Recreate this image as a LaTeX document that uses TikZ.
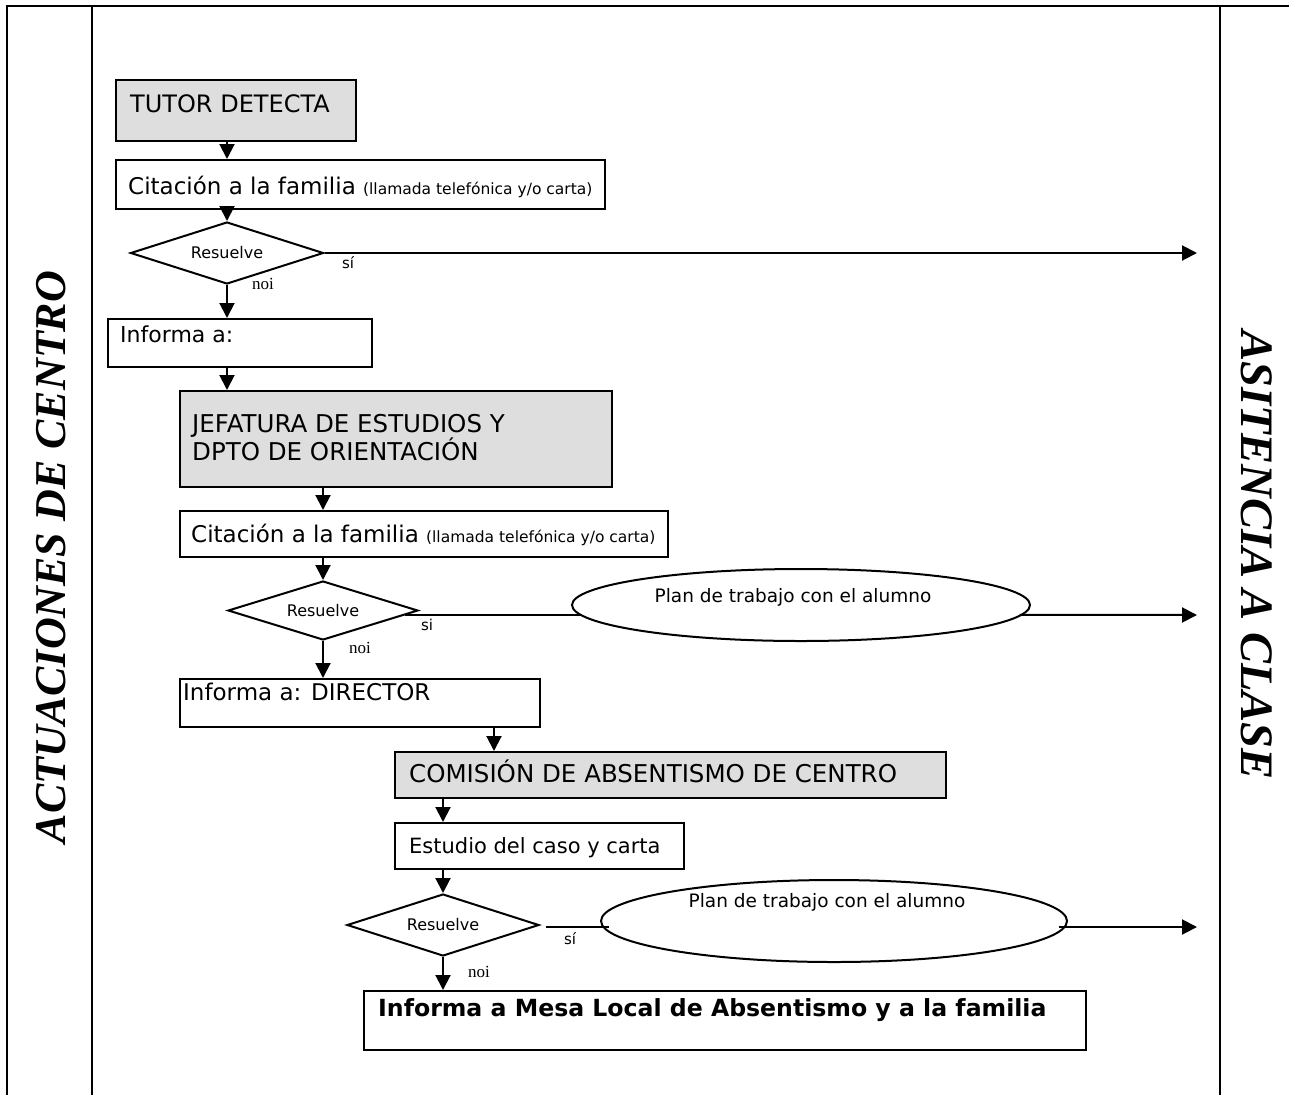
\documentclass[tikz,border=0pt]{standalone}
\usepackage{fontspec}
\setmainfont{DejaVu Sans}
\newfontfamily\sidefont{Liberation Serif}
\newfontfamily\noifont{Liberation Serif}
\usetikzlibrary{shapes.geometric,arrows.meta}
\definecolor{boxgray}{RGB}{222,222,222}
\begin{document}
\begin{tikzpicture}[x=1pt,y=-1pt,
  frame/.style={line width=2.8pt},
  box/.style={draw, line width=2pt, rectangle, inner sep=0pt, anchor=north west},
  graybox/.style={box, fill=boxgray},
  decision/.style={draw, diamond, aspect=3, line width=2pt, inner sep=0pt, font=\fontsize{16}{19}\selectfont},
  oval/.style={draw, ellipse, line width=2pt, inner sep=0pt},
  flow/.style={line width=2pt, -{Triangle[width=15pt,length=15pt]}},
  plain/.style={line width=2pt},
  bigtext/.style={anchor=base west, inner sep=0pt, font=\fontsize{23}{28}\selectfont},
  capstext/.style={bigtext, font=\fontsize{24.5}{29}\selectfont},
  sitext/.style={inner sep=0pt, font=\fontsize{15}{17}\selectfont},
  noitext/.style={inner sep=0pt, font=\noifont\fontsize{17}{19}\selectfont},
  plantext/.style={inner sep=0pt, font=\fontsize{18.5}{21}\selectfont},
  sidetext/.style={inner sep=0pt, font=\sidefont\bfseries\itshape\fontsize{44}{50}\selectfont}
]
\path[use as bounding box] (0,0) rectangle (1289,1095);

% frame
\draw[frame] (1289,6) -- (7,6) -- (7,1095);
\draw[frame] (92,6) -- (92,1095);
\draw[frame] (1220,6) -- (1220,1095);

% side texts
\node[sidetext, rotate=90] (lefttitle) at (51,557) {ACTUACIONES DE CENTRO};
\node[sidetext, rotate=-90, font=\sidefont\bfseries\itshape\fontsize{46.5}{52}\selectfont] (righttitle) at (1257,555) {ASITENCIA A CLASE};

% boxes
\node[graybox, minimum width=240, minimum height=61] (tutor) at (115,79) {};
\node[capstext, font=\fontsize{24}{29}\selectfont] (tutortxt) at (130,112) {TUTOR DETECTA};

\node[box, minimum width=489, minimum height=49] (cit1) at (115,159) {};
\node[bigtext] (cit1txt) at (128,194) {Citación a la familia {\fontsize{15.5}{18}\selectfont(llamada telefónica y/o carta)}};

\node[decision, minimum width=193, minimum height=62] (d1) at (227,253) {Resuelve};

\node[box, minimum width=264, minimum height=48] (info1) at (107,318) {};
\node[bigtext, font=\fontsize{22}{26}\selectfont] (info1txt) at (120,342) {Informa a:};

\node[graybox, minimum width=432, minimum height=96] (jef) at (179,390) {};
\node[capstext] (jeftxt1) at (192,432) {JEFATURA DE ESTUDIOS Y};
\node[capstext] (jeftxt2) at (192,460) {DPTO DE ORIENTACIÓN};

\node[box, minimum width=488, minimum height=46] (cit2) at (179,510) {};
\node[bigtext] (cit2txt) at (191,542) {Citación a la familia {\fontsize{15.5}{18}\selectfont(llamada telefónica y/o carta)}};

\node[decision, minimum width=190, minimum height=59] (d2) at (323,610.5) {Resuelve};
\node[oval, minimum width=458, minimum height=72] (e2) at (801,605) {};
\node[plantext] (e2txt) at (793,597) {Plan de trabajo con el alumno};

\node[box, minimum width=360, minimum height=48] (dir) at (179,678) {};
\node[bigtext] (dirtxt) at (183,700) {Informa a: DIRECTOR};

\node[graybox, minimum width=551, minimum height=46] (com) at (394,751) {};
\node[capstext] (comtxt) at (409,782) {COMISIÓN DE ABSENTISMO DE CENTRO};

\node[box, minimum width=289, minimum height=46] (est) at (394,822) {};
\node[bigtext, font=\fontsize{21}{25}\selectfont] (esttxt) at (409,853) {Estudio del caso y carta};

\node[decision, minimum width=192, minimum height=62] (d3) at (443,925) {Resuelve};
\node[oval, minimum width=466, minimum height=82] (e3) at (834,921) {};
\node[plantext] (e3txt) at (827,902) {Plan de trabajo con el alumno};

\node[box, minimum width=722, minimum height=59] (final) at (363,990) {};
\node[bigtext, font=\bfseries\fontsize{23.6}{28}\selectfont] (finaltxt) at (378,1016) {Informa a Mesa Local de Absentismo y a la familia};

% right-edge targets
\coordinate (r1) at (1197,253);
\coordinate (r2) at (1197,615);
\coordinate (r3) at (1197,927);
\coordinate (s2) at (d2.357);
\coordinate (s3) at (546,927);

% vertical flow
\draw[flow] (tutor.south -| d1.center) -- (cit1.north -| d1.center);
\draw[flow] (cit1.south -| d1.center) -- (d1.north);
\draw[flow] (d1.south) -- (info1.north -| d1.center);
\draw[flow] (info1.south -| d1.center) -- (jef.north -| d1.center);
\draw[flow] (jef.south -| d2.center) -- (cit2.north -| d2.center);
\draw[flow] (cit2.south -| d2.center) -- (d2.north);
\draw[flow] (d2.south) -- (dir.north -| d2.center);
\draw[flow] ([xshift=-47pt]dir.south east) coordinate (dd) -- (dd |- com.north);
\draw[flow] (com.south -| d3.center) -- (est.north -| d3.center);
\draw[flow] (est.south -| d3.center) -- (d3.north);
\draw[flow] (d3.south) -- (final.north -| d3.center);

% yes branches
\draw[flow] (d1.east) -- (r1);
\draw[plain] (s2) -- (s2 -| e2.183);
\draw[flow] (s2 -| e2.357) -- (r2);
\draw[plain] (s3) -- (s3 -| e3.183);
\draw[flow] (s3 -| e3.357) -- (r3);

% labels
\node[sitext] (si1) at (348,263) {sí};
\node[noitext] (noi1) at (263,284) {noi};
\node[sitext] (si2) at (427,625) {si};
\node[noitext] (noi2) at (360,648) {noi};
\node[sitext] (si3) at (570,939) {sí};
\node[noitext] (noi3) at (479,972) {noi};
\end{tikzpicture}
\end{document}
